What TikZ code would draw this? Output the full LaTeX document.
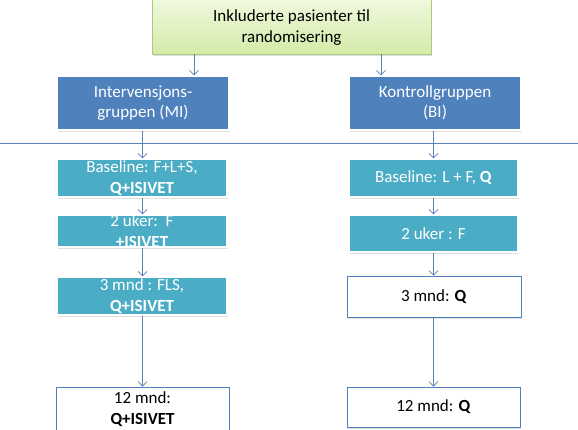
\documentclass[tikz,border=0pt]{standalone}
\usepackage{fontspec}
\setmainfont{Carlito}
\usetikzlibrary{arrows.meta,shadows}
\definecolor{obBlue}{HTML}{4F81BD}
\definecolor{obAqua}{HTML}{4BACC6}
\definecolor{lineBlue}{HTML}{5A80B8}
\definecolor{gTop}{HTML}{F1F9E0}
\definecolor{gBot}{HTML}{D3EBA8}
\definecolor{gBorder}{HTML}{A9C97D}
\tikzset{
  base/.style={rectangle, inner sep=0pt, align=center,
    font=\fontsize{17}{20.5}\selectfont,
    drop shadow={shadow xshift=1.2pt, shadow yshift=-1.8pt, opacity=0.25}},
  greenbox/.style={base, shading=axis, top color=gTop, bottom color=gBot,
    draw=gBorder, line width=0.8pt, text=black},
  bluebox/.style={base, fill=obBlue, draw=white, line width=1.2pt, text=white},
  aquabox/.style={base, fill=obAqua, draw=white, line width=1.2pt, text=white},
  whitebox/.style={base, fill=white, draw=obBlue, line width=0.8pt, text=black},
  txt/.style={inner sep=0pt, align=center, font=\fontsize{17}{20.5}\selectfont},
  arr/.style={draw=lineBlue, line width=0.7pt,
    -{Straight Barb[length=4.5pt,width=9pt,line width=0.7pt]}},
}
\begin{document}
\begin{tikzpicture}[x=1pt,y=-1pt]
\useasboundingbox (0,0) rectangle (578,430);
% top
\node[greenbox, minimum width=279, minimum height=57] (top) at (291.5,25.5) {};
\node[txt] (toptxt) at (291.5,27.5) {Inkluderte pasienter til\\randomisering};
% groups
\node[bluebox, minimum width=172, minimum height=54] (interv) at (143,103)
  {Intervensjons-\\gruppen (MI)};
\node[bluebox, minimum width=172, minimum height=54] (kontr) at (435,103)
  {Kontrollgruppen\\(BI)};
% separator
\coordinate (sepL) at (0,143.5);
\coordinate (sepR) at (578,143.5);
\draw[lineBlue, line width=0.8pt] (sepL) -- (sepR);
% left column
\node[aquabox, minimum width=170, minimum height=38] (l1) at (142,178)
  {Baseline: F+L+S,\\\textbf{Q+ISIVET}};
\node[aquabox, minimum width=170, minimum height=32] (l2) at (142,231) {};
\node[txt, text=white] (l2txt) at (142,231) {2 uker:\ \ F\\\textbf{+ISIVET}};
\node[aquabox, minimum width=170, minimum height=38] (l3) at (142,296)
  {3 mnd : FLS,\\\textbf{Q+ISIVET}};
\node[whitebox, minimum width=173, minimum height=44] (l4) at (142.5,409)
  {12 mnd:\\\textbf{Q+ISIVET}};
% right column
\node[aquabox, minimum width=169, minimum height=38] (r1) at (433.5,178)
  {Baseline: L + F, \textbf{Q}};
\node[aquabox, minimum width=169, minimum height=37] (r2) at (433.5,233.5)
  {2 uker : F};
\node[whitebox, minimum width=174, minimum height=41] (r3) at (434,296.5)
  {3 mnd: \textbf{Q}};
\node[whitebox, minimum width=173, minimum height=40] (r4) at (433.5,407)
  {12 mnd: \textbf{Q}};
% arrow columns
\coordinate (ax1) at (194,0);
\coordinate (ax2) at (381,0);
\coordinate (lx) at (142.5,0);
\coordinate (rx) at (433.5,0);
\draw[arr] (ax1 |- top.south) -- (ax1 |- interv.north);
\draw[arr] (ax2 |- top.south) -- (ax2 |- kontr.north);
\draw[arr] (lx |- interv.south) -- (lx |- l1.north);
\draw[arr] (lx |- l1.south) -- (lx |- l2.north);
\draw[arr] (lx |- l2.south) -- (lx |- l3.north);
\draw[arr] (lx |- l3.south) -- (lx |- l4.north);
\draw[arr] (rx |- kontr.south) -- (rx |- r1.north);
\draw[arr] (rx |- r1.south) -- (rx |- r2.north);
\draw[arr] (rx |- r2.south) -- (rx |- r3.north);
\draw[arr] (rx |- r3.south) -- (rx |- r4.north);
\end{tikzpicture}
\end{document}
